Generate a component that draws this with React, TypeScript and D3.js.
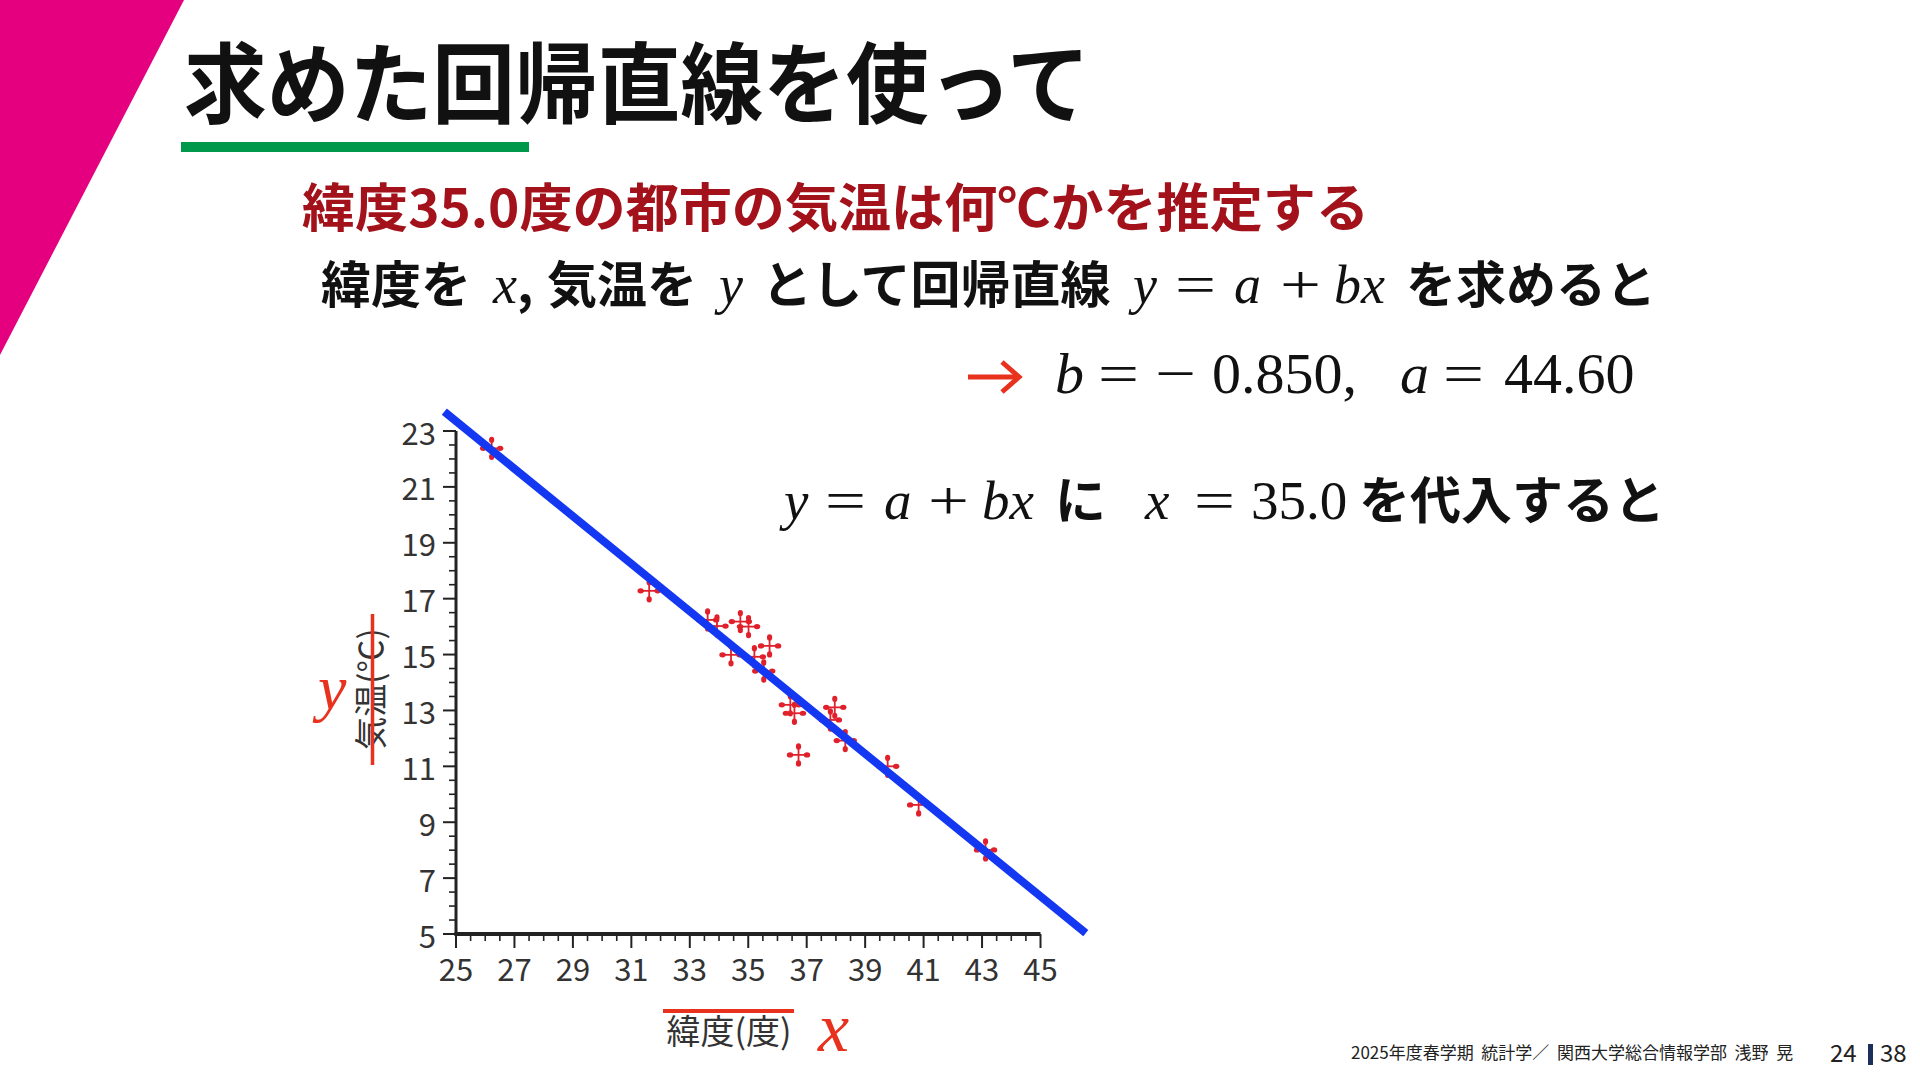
import React from 'react';
import * as d3 from 'd3';

// ---- data ----
const latitude = [26.22, 31.61, 33.61, 33.93, 34.73, 35.01, 35.73, 34.41, 35.21, 35.53, 36.44, 36.58, 37.96, 37.81, 38.32, 36.72, 39.77, 40.83, 43.12];
const temperature = [22.38, 17.28, 16.24, 16.02, 16.18, 16.0, 15.31, 14.99, 14.92, 14.41, 13.2, 12.9, 13.11, 12.66, 11.92, 11.41, 11.0, 9.62, 8.01];
const xTickValues = [25, 27, 29, 31, 33, 35, 37, 39, 41, 43, 45];
const yTickValues = [5, 7, 9, 11, 13, 15, 17, 19, 21, 23];
const interceptA = 44.6;
const slopeB = -0.85;
const lineXExtent = [24.6, 46.55];

const JP = "'Noto Sans CJK JP', 'Noto Sans', sans-serif";
const MATH = "'Liberation Serif', 'Times New Roman', serif";
const RED = '#e8321e';

type SegKind = 'jp' | 'mi' | 'm' | 'op';
function Seg({ x, y, k, s, size }: { x: number; y: number; k: SegKind; s: string; size: number }) {
  if (k === 'jp')
    return (
      <text x={x} y={y} fontFamily={JP} fontWeight={700} fontSize={size - 4} fill="#111">
        {s}
      </text>
    );
  if (k === 'op')
    return (
      <text x={x - 2} y={y} fontFamily={MATH} fontSize={size} fill="#111" textLength={41} lengthAdjust="spacingAndGlyphs">
        {s}
      </text>
    );
  return (
    <text x={x} y={y} fontFamily={MATH} fontStyle={k === 'mi' ? 'italic' : 'normal'} fontSize={size} fill="#111">
      {s}
    </text>
  );
}

function Marker({ cx, cy }: { cx: number; cy: number }) {
  const dirs = [0, 90, 180, 270];
  return (
    <g transform={`translate(${cx},${cy})`} fill="#e0212c" stroke="#e0212c">
      {dirs.map((a) => (
        <g key={a} transform={`rotate(${a})`}>
          <line x1={0} y1={0} x2={8} y2={0} strokeWidth={1.8} />
          <ellipse cx={8.5} cy={0} rx={3.2} ry={2.6} stroke="none" />
        </g>
      ))}
    </g>
  );
}

export default function App() {
  const x = d3.scaleLinear().domain([25, 45]).range([456, 1040.5]);
  const y = d3.scaleLinear().domain([5, 23]).range([934, 431]);
  const xMinor = d3.range(25, 45.001, 0.5).filter((v) => !xTickValues.includes(v));
  const yMinor = d3.range(5, 23.001, 0.5).filter((v) => !yTickValues.includes(v));
  const lineGen = d3
    .line<number>()
    .x((d) => x(d))
    .y((d) => y(interceptA + slopeB * d));
  const x0 = x(25);
  const y0 = y(5);

  const line2: [number, SegKind, string][] = [
    [321, 'jp', '緯度を'],
    [493, 'mi', 'x'],
    [517, 'jp', ','],
    [547, 'jp', '気温を'],
    [719, 'mi', 'y'],
    [762, 'jp', 'として回帰直線'],
    [1133, 'mi', 'y'],
    [1177, 'op', '='],
    [1234, 'mi', 'a'],
    [1282, 'op', '+'],
    [1334, 'mi', 'bx'],
    [1406, 'jp', 'を求めると'],
  ];
  const line3: [number, SegKind, string][] = [
    [1055, 'mi', 'b'],
    [1100, 'op', '='],
    [1157, 'op', '−'],
    [1212, 'm', '0.850,'],
    [1400, 'mi', 'a'],
    [1445, 'op', '='],
    [1504, 'm', '44.60'],
  ];
  const line4: [number, SegKind, string][] = [
    [784, 'mi', 'y'],
    [827, 'op', '='],
    [884, 'mi', 'a'],
    [930, 'op', '+'],
    [982, 'mi', 'bx'],
    [1055, 'jp', 'に'],
    [1145, 'mi', 'x'],
    [1196, 'op', '='],
    [1251, 'm', '35.0'],
    [1359, 'jp', 'を代入すると'],
  ];

  return (
    <svg width={1920} height={1080} style={{ position: 'absolute', left: 0, top: 0, background: '#fff' }}>
      <rect x={0} y={0} width={1920} height={1080} fill="#fff" />
      {/* magenta corner */}
      <polygon points="0,0 184,0 0,355" fill="#e4007f" />
      {/* title */}
      <text x={184} y={116} fontFamily={JP} fontWeight={700} fontSize={88} fill="#111" textLength={906} lengthAdjust="spacingAndGlyphs">
        求めた回帰直線を使って
      </text>
      <rect x={181} y={142} width={348} height={10} fill="#00984a" />

      {/* subtitle */}
      <text x={302} y={227} fontFamily={JP} fontWeight={700} fontSize={52} fill="#a3111a" textLength={1067} lengthAdjust="spacingAndGlyphs">
        緯度35.0度の都市の気温は何℃かを推定する
      </text>

      {/* line 2 */}
      {line2.map(([px, k, s], i) => (
        <Seg key={'l2' + i} x={px} y={303} k={k} s={s} size={54} />
      ))}

      {/* line 3 */}
      <g stroke={RED} strokeWidth={5} fill="none" strokeLinecap="butt">
        <line x1={968} y1={377} x2={1018} y2={377} />
        <polyline points="1002,362 1019,377 1002,392" strokeLinejoin="miter" />
      </g>
      {line3.map(([px, k, s], i) => (
        <Seg key={'l3' + i} x={px} y={393} k={k} s={s} size={58} />
      ))}

      {/* line 4 */}
      {line4.map(([px, k, s], i) => (
        <Seg key={'l4' + i} x={px} y={519} k={k} s={s} size={55} />
      ))}

      {/* axes */}
      <g stroke="#222" fill="none">
        <line x1={x0} y1={y(23)} x2={x0} y2={y0 + 1.5} strokeWidth={3} />
        <line x1={x0 - 1.5} y1={y0} x2={x(45)} y2={y0} strokeWidth={4} />
        {xTickValues.map((v) => (
          <line key={'xM' + v} x1={x(v)} x2={x(v)} y1={y0} y2={y0 + 14} strokeWidth={2} />
        ))}
        {xMinor.map((v) => (
          <line key={'xm' + v} x1={x(v)} x2={x(v)} y1={y0} y2={y0 + 7} strokeWidth={1.6} />
        ))}
        {yTickValues.map((v) => (
          <line key={'yM' + v} x1={x0 - 13} x2={x0} y1={y(v)} y2={y(v)} strokeWidth={2} />
        ))}
        {yMinor.map((v) => (
          <line key={'ym' + v} x1={x0 - 7} x2={x0} y1={y(v)} y2={y(v)} strokeWidth={1.6} />
        ))}
      </g>
      <g fontFamily={JP} fontSize={31} fill="#333">
        {xTickValues.map((v) => (
          <text key={'xl' + v} x={x(v)} y={981} textAnchor="middle">
            {v}
          </text>
        ))}
        {yTickValues.map((v) => (
          <text key={'yl' + v} x={436} y={y(v)} textAnchor="end" dominantBaseline="central">
            {v}
          </text>
        ))}
      </g>

      {/* axis titles */}
      <text transform="translate(383,689) rotate(-90)" textAnchor="middle" fontFamily={JP} fontSize={33} fill="#333">
        気温(℃)
      </text>
      <line x1={372.5} x2={372.5} y1={614} y2={765} stroke={RED} strokeWidth={3.5} />
      <text x={318} y={709} fontFamily={MATH} fontStyle="italic" fontSize={64} fill={RED}>
        y
      </text>

      <rect x={663} y={1009} width={131} height={4} fill={RED} />
      <text x={729} y={1044} textAnchor="middle" fontFamily={JP} fontSize={34} fill="#333">
        緯度(度)
      </text>
      <text x={818} y={1051} fontFamily={MATH} fontStyle="italic" fontSize={70} fill={RED}>
        x
      </text>

      {/* points */}
      {latitude.map((lat, i) => (
        <Marker key={i} cx={x(lat)} cy={y(temperature[i])} />
      ))}
      {/* regression line */}
      <path d={lineGen(lineXExtent) || ''} stroke="#1438f2" strokeWidth={8} fill="none" />

      {/* footer */}
      <text x={1351} y={1059} fontFamily={JP} fontSize={17} fill="#222" style={{ whiteSpace: 'pre' }}>
        2025年度春学期  統計学／  関西大学総合情報学部  浅野  晃
      </text>
      <text x={1830} y={1062} fontFamily={JP} fontSize={24} fill="#222">
        24
      </text>
      <rect x={1868} y={1044} width={5} height={21} fill="#1c2e5a" />
      <text x={1880} y={1062} fontFamily={JP} fontSize={24} fill="#222">
        38
      </text>
    </svg>
  );
}
